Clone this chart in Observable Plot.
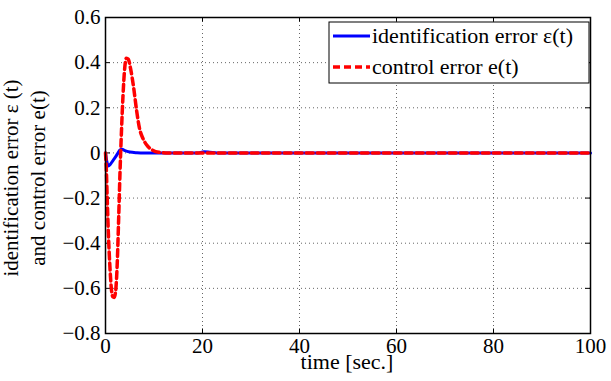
<!DOCTYPE html>
<html>
<head>
<meta charset="utf-8">
<script src="https://cdn.jsdelivr.net/npm/d3@7"></script>
<script src="https://cdn.jsdelivr.net/npm/@observablehq/plot@0.6"></script>
<style>
  html, body { margin: 0; padding: 0; background: #fff; }
  #chart { position: relative; width: 611px; height: 381px; }
</style>
</head>
<body>
<div id="chart"></div>
<script>
// Identification error ε(t)
const idTime  = [0, 0.25, 0.6, 1.0, 1.5, 2.0, 2.5, 3.0, 3.4, 4.0, 5.0, 6.5, 8, 19, 20.3, 21.5, 23, 100];
const idError = [0, -0.035, -0.058, -0.05, -0.035, -0.02, -0.003, 0.014, 0.016, 0.01, 0.004, 0.001, 0, 0, 0.005, 0.003, 0, 0];

// Control error e(t)
const ctlTime  = [0, 0.15, 0.35, 0.6, 0.9, 1.2, 1.5, 1.8, 2.1, 2.4, 2.7, 3.0, 3.3, 3.6, 3.9, 4.3, 4.7, 5.2, 5.8, 6.4, 7.0, 7.7, 8.5, 9.5, 11, 13, 100];
const ctlError = [0, -0.06, -0.2, -0.36, -0.5, -0.6, -0.637, -0.64, -0.61, -0.5, -0.3, -0.08, 0.1, 0.25, 0.36, 0.42, 0.415, 0.37, 0.29, 0.19, 0.11, 0.065, 0.035, 0.015, 0.003, 0, 0];

const xTicks = [0, 20, 40, 60, 80, 100];
const yTicks = [-0.8, -0.6, -0.4, -0.2, 0, 0.2, 0.4, 0.6];
const xGrid = [20, 40, 60, 80];
const yGrid = [-0.6, -0.4, -0.2, 0, 0.2, 0.4];

const seriesNames = ["identification error \u03b5(t)", "control error e(t)"];
const xLabel = "time [sec.]";
const yLabelLines = ["identification error \u03b5 (t)", "and control error e(t)"];

const idData = idTime.map((t, i) => ({t, v: idError[i]}));
const ctlData = ctlTime.map((t, i) => ({t, v: ctlError[i]}));

const fmtY = d => d === 0 ? "0" : d3.format(".1f")(d).replace("-", "\u2212");

const FONT = "Liberation Serif";

const plot = Plot.plot({
  width: 611,
  height: 381,
  marginLeft: 105,
  marginRight: 21,
  marginTop: 17,
  marginBottom: 48,
  x: {domain: [0, 100]},
  y: {domain: [-0.8, 0.6]},
  marks: [
    Plot.ruleX(xGrid, {stroke: "#666", strokeDasharray: "1,3", strokeWidth: 1}),
    Plot.ruleY(yGrid, {stroke: "#666", strokeDasharray: "1,3", strokeWidth: 1}),
    // inward tick marks on all four sides
    Plot.ruleX(xTicks, {y1: -0.8, y2: -0.78, stroke: "#000"}),
    Plot.ruleX(xTicks, {y1: 0.6, y2: 0.58, stroke: "#000"}),
    Plot.ruleY(yTicks, {x1: 0, x2: 1, stroke: "#000"}),
    Plot.ruleY(yTicks, {x1: 100, x2: 99, stroke: "#000"}),
    Plot.axisX(xTicks, {tickSize: 0, tickPadding: 5, label: null, fontSize: 21, fontFamily: FONT}),
    Plot.axisY(yTicks, {tickSize: 0, tickPadding: 5, label: null, tickFormat: fmtY, fontSize: 21, fontFamily: FONT}),
    Plot.line(idData, {x: "t", y: "v", stroke: "#0000ff", strokeWidth: 3, curve: "monotone-x"}),
    Plot.line(ctlData, {x: "t", y: "v", stroke: "#ff0000", strokeWidth: 3.5, strokeDasharray: "7,4", curve: "monotone-x"}),
    Plot.frame({stroke: "#000", strokeWidth: 1.5})
  ]
});

document.getElementById("chart").appendChild(plot);

const svg = d3.select(plot);

// x label
svg.append("text")
  .attr("x", 347).attr("y", 369)
  .attr("text-anchor", "middle")
  .attr("font-family", FONT)
  .attr("font-size", 22)
  .text(xLabel);

// y label (two lines, rotated)
const yl = svg.append("text")
  .attr("transform", "translate(18,178) rotate(-90)")
  .attr("text-anchor", "middle")
  .attr("font-family", FONT)
  .attr("font-size", 21);
yl.append("tspan").attr("x", 0).attr("y", 0).text(yLabelLines[0]);
yl.append("tspan").attr("x", 0).attr("y", 27).text(yLabelLines[1]);

// legend
const lg = svg.append("g").attr("font-family", FONT);
lg.append("rect").attr("x", 329).attr("y", 22).attr("width", 260).attr("height", 61)
  .attr("fill", "#fff").attr("stroke", "#000").attr("stroke-width", 1);
lg.append("line").attr("x1", 333).attr("x2", 370).attr("y1", 36).attr("y2", 36)
  .attr("stroke", "#0000ff").attr("stroke-width", 3);
lg.append("line").attr("x1", 333).attr("x2", 370).attr("y1", 67).attr("y2", 67)
  .attr("stroke", "#ff0000").attr("stroke-width", 3.5).attr("stroke-dasharray", "7,4");
lg.append("text").attr("x", 372).attr("y", 43).attr("text-anchor", "start").attr("font-size", 22).text(seriesNames[0]);
lg.append("text").attr("x", 372).attr("y", 74).attr("text-anchor", "start").attr("font-size", 22).text(seriesNames[1]);
</script>
</body>
</html>
